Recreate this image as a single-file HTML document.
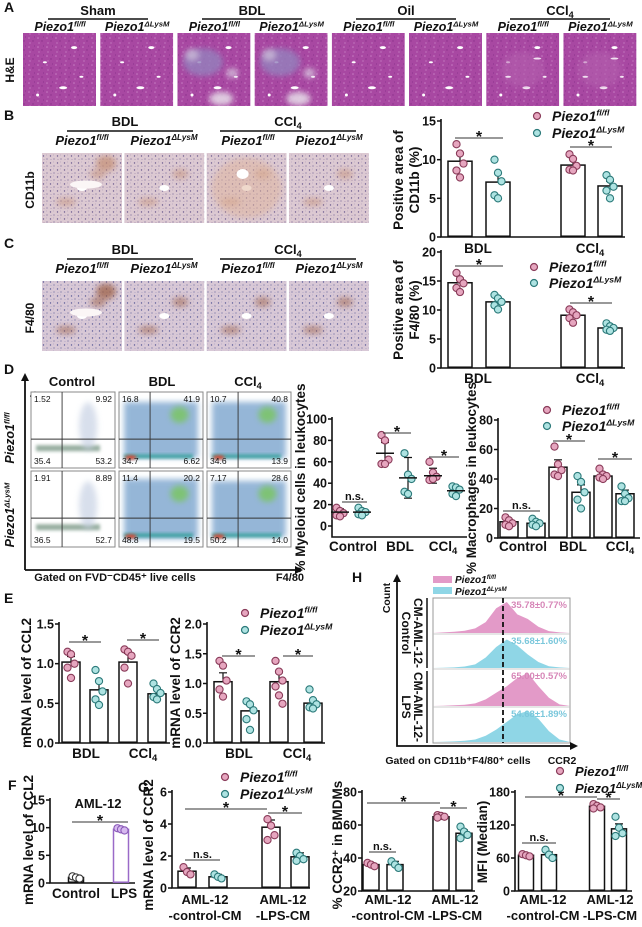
<!DOCTYPE html>
<html><head><meta charset="utf-8"><style>
html,body{margin:0;padding:0;background:#fff;}
svg{display:block;font-family:"Liberation Sans",Arial,sans-serif;font-weight:bold;}
</style></head><body>
<svg id="fig" xmlns="http://www.w3.org/2000/svg" width="642" height="927" viewBox="0 0 642 927">
<defs>
<filter id="blur2" x="-50%" y="-50%" width="200%" height="200%"><feGaussianBlur stdDeviation="3"/></filter>
<filter id="blur1" x="-50%" y="-50%" width="200%" height="200%"><feGaussianBlur stdDeviation="1.5"/></filter>
<pattern id="heTex" width="9" height="9" patternUnits="userSpaceOnUse">
<rect width="9" height="9" fill="#a848a2"/>
<circle cx="2" cy="2" r="0.8" fill="#c77cc2"/><circle cx="6" cy="5" r="0.7" fill="#8a2f8a"/><circle cx="3" cy="7" r="0.6" fill="#d08ccc"/><circle cx="7.5" cy="1" r="0.6" fill="#8e3690"/>
</pattern>
<pattern id="ihcTex" width="7" height="7" patternUnits="userSpaceOnUse">
<rect width="7" height="7" fill="#dcc9d2"/>
<circle cx="1.5" cy="2" r="0.7" fill="#6a5a8e"/><circle cx="5" cy="5" r="0.6" fill="#7a6a9a"/><circle cx="4.5" cy="1" r="0.5" fill="#b9a6bf"/><circle cx="2" cy="5.5" r="0.5" fill="#a890b0"/>
</pattern>
<pattern id="ihcTex2" width="7" height="7" patternUnits="userSpaceOnUse">
<rect width="7" height="7" fill="#d8c8d6"/>
<circle cx="1.5" cy="2" r="0.7" fill="#5a5a96"/><circle cx="5" cy="5" r="0.6" fill="#6a6aa0"/><circle cx="4.5" cy="1" r="0.5" fill="#b0a6c6"/><circle cx="2" cy="5.5" r="0.5" fill="#a8a0c0"/>
</pattern>
</defs>
</svg>
<script>
// ---------- DATA ----------
const bCats=['BDL','CCl4'];
const bFl=[9.8,9.3], bKo=[7.1,6.6], bFlErr=[1.1,0.8], bKoErr=[1.2,0.6];
const bFlPts=[[12,10.8,9.5,8.6,7.7],[10.7,10.1,9.2,8.7,8.6]];
const bKoPts=[[10,8.3,7.2,5.4,5.0],[8.0,7.4,6.5,6.0,5.0]];
const cFl=[14.7,9.1], cKo=[11.4,6.9], cFlErr=[0.8,0.4], cKoErr=[0.6,0.3];
const cFlPts=[[16.4,15.3,14.6,13.8,13.1],[10.1,9.6,9.1,8.6,7.8]];
const cKoPts=[[12.6,12.0,11.4,10.8,10.1],[7.7,7.2,6.9,6.6,6.4]];
const dCats=['Control','BDL','CCl4'];
const dMyFl=[13,68,47], dMyKo=[13,45,33], dMyFlSd=[3,10,7], dMyKoSd=[3,19,4];
const dMyFlPts=[[17,14,12,10,9],[85,80,62,58,58],[60,50,46,43,44]];
const dMyKoPts=[[17,14,13,11,10],[68,48,44,32,30],[37,36,34,30,28]];
const dMacFl=[11,48,42], dMacKo=[10,31,30], dMacFlErr=[1.5,5,2], dMacKoErr=[1.5,5,2.5];
const dMacFlPts=[[14,12,10,9,8],[62,50,46,43,42],[47,43,42,41,40]];
const dMacKoPts=[[13,11,10,9,8],[42,38,31,26,20],[35,30,27,25,25]];
const e1Fl=[1.02,1.02], e1Ko=[0.67,0.62], e1FlErr=[0.07,0.11], e1KoErr=[0.1,0.05];
const e1FlPts=[[1.15,1.12,1.0,0.95,0.82],[1.18,1.15,1.1,0.95,0.75]];
const e1KoPts=[[0.92,0.78,0.65,0.55,0.48],[0.75,0.68,0.63,0.58,0.55]];
const e2Fl=[1.03,1.03], e2Ko=[0.54,0.67], e2FlErr=[0.15,0.15], e2KoErr=[0.1,0.06];
const e2FlPts=[[1.38,1.3,1.05,0.9,0.78],[1.38,1.2,1.05,0.95,0.8,0.66]];
const e2KoPts=[[0.7,0.65,0.55,0.4,0.22],[0.9,0.72,0.65,0.6,0.58]];
const fCats=['Control','LPS'];
const fVals=[1.0,9.7], fErr=[0.1,0.2];
const fPts=[[1.2,1.0,0.8],[9.9,9.7,9.5]];
const gCats=['AML-12|-control-CM','AML-12|-LPS-CM'];
const g1Fl=[1.05,3.8], g1Ko=[0.7,1.95], g1FlErr=[0.2,0.45], g1KoErr=[0.15,0.25];
const g1FlPts=[[1.3,1.0,0.85],[4.3,3.9,3.3,3.0]];
const g1KoPts=[[0.85,0.7,0.6],[2.2,2.0,1.8,1.7]];
const g2Fl=[36,65], g2Ko=[36,55], g2FlErr=[1,0.7], g2KoErr=[2,2];
const g2FlPts=[[37,36,35],[66,65.5,65,64.5]];
const g2KoPts=[[38,36,34],[59,56,54,52]];
const g3Fl=[65,154], g3Ko=[66,113], g3FlErr=[2,3], g3KoErr=[5,9];
const g3FlPts=[[67,65,63],[158,155,152,150]];
const g3KoPts=[[75,66,60],[135,115,105,100]];
const flowNums=[['1.52','9.92','35.4','53.2'],['16.8','41.9','34.7','6.62'],['10.7','40.8','34.6','13.9'],
  ['1.91','8.89','36.5','52.7'],['11.4','20.2','48.8','19.5'],['7.17','28.6','50.2','14.0']];
const hLabels=['35.78±0.77%','35.68±1.60%','65.00±0.57%','54.68±1.89%'];
const hPeaks=[[0,0.02,0.04,0.07,0.15,0.35,0.8,1.0,0.6,0.45,0.2,0.06,0.02,0],
              [0,0.01,0.02,0.05,0.12,0.35,0.7,0.95,0.75,0.45,0.2,0.06,0.02,0],
              [0,0.01,0.02,0.04,0.08,0.2,0.4,0.6,0.85,1.0,0.6,0.25,0.05,0],
              [0,0.01,0.02,0.04,0.08,0.2,0.4,0.65,0.9,1.0,0.75,0.35,0.08,0]];

// ---------- HELPERS ----------
const NS='http://www.w3.org/2000/svg';
const svg=document.getElementById('fig');
function mk(tag,attrs,parent){const e=document.createElementNS(NS,tag);for(const k in attrs)e.setAttribute(k,attrs[k]);(parent||svg).appendChild(e);return e;}
function txt(x,y,s,size,opts,parent){opts=opts||{};const e=mk('text',{x:x,y:y,'font-size':size,'text-anchor':opts.anchor||'middle',fill:opts.fill||'#111'},parent);if(opts.italic)e.setAttribute('font-style','italic');if(opts.rot)e.setAttribute('transform','rotate('+(opts.rot===2?90:-90)+' '+x+' '+y+')');if(opts.w)e.setAttribute('font-weight',opts.w);
  if(s.indexOf('CCl4')>=0&&!opts.plain){const parts=s.split('CCl4');e.appendChild(document.createTextNode(parts[0]+'CCl'));const t=mk('tspan',{dy:3,'font-size':size*0.7},e);t.textContent='4';if(parts[1]){const t2=mk('tspan',{dy:-3},e);t2.textContent=parts[1];}}
  else e.textContent=s;return e;}
function geno(x,y,sup,size,anchor,parent){const e=mk('text',{x:x,y:y,'font-size':size,'font-style':'italic','text-anchor':anchor||'middle',fill:'#111'},parent);e.appendChild(document.createTextNode('Piezo1'));const t=mk('tspan',{dy:-size*0.38,'font-size':size*0.62},e);t.textContent=sup;return e;}
const PINK='#e6a6bf',PINKS='#8a3c5a',CYAN='#aee3e2',CYANS='#2c7a7a';

function legend(x,y,dy,size,g){
  const c1=mk('circle',{cx:x,cy:y,r:3.5,fill:PINK,stroke:PINKS,'stroke-width':1.2},g);
  
  
  const t1=geno(x+15,y+5,'fl/fl',size,'start',g);
  
  
  const c2=mk('circle',{cx:x,cy:y+dy,r:3.5,fill:CYAN,stroke:CYANS,'stroke-width':1.2},g);
  
  
  const t2=geno(x+15,y+dy+5,'ΔLysM',size,'start',g);
  
  
}

function barChart(name,cfg){
  const g=mk('g',{});
  
  
  const y=v=>cfg.yBot-(v-cfg.min)/(cfg.max-cfg.min)*(cfg.yBot-cfg.yTop);
  const ax=mk('path',{d:'M'+cfg.ax+' '+(cfg.yTop-2)+' V'+(cfg.axBot||cfg.yBot)+' H'+cfg.xEnd,stroke:'#111','stroke-width':1.6,fill:'none'},g);
  
  
  cfg.ticks.forEach((t,i)=>{
    mk('line',{x1:cfg.ax-4,x2:cfg.ax,y1:y(t),y2:y(t),stroke:'#111','stroke-width':1.5},g);
    const tl=txt(cfg.ax-5,y(t)+4.5,cfg.tickLabels[i],cfg.tf||12.5,{anchor:'end'},g);
    
    
  });
  const series=cfg.series;
  let k=0;
  for(let gi=0;gi<cfg.cats.length;gi++){
    series.forEach((s,si)=>{
      const cx=cfg.bx[k++]; const v=s.vals[gi];
      if(!cfg.dot){
        const r=mk('rect',{x:cx-cfg.bw/2,y:y(v),width:cfg.bw,height:(cfg.axBot||cfg.yBot)-y(v)-0.8,fill:'#fff',stroke:s.bar||'#111','stroke-width':1.5},g);
        
        
      }
      const e=s.err[gi];
      const eb=mk('path',{d:'M'+cx+' '+y(v+e)+' V'+y(cfg.dot?v-e:v)+' M'+(cx-4)+' '+y(v+e)+' H'+(cx+4)+(cfg.dot?' M'+(cx-4)+' '+y(v-e)+' H'+(cx+4):''),stroke:'#111','stroke-width':1.2,fill:'none'},g);
      
      
      s.pts[gi].forEach((p,pi)=>{
        const off=((pi%3)-1)*3.5;
        const c=mk('circle',{cx:cx+off,cy:y(p),r:3.6,fill:s.fill,stroke:s.stroke,'stroke-width':1.1},g);
        
        
      });
      if(cfg.dot){
        const m=mk('line',{x1:cx-9,x2:cx+9,y1:y(v),y2:y(v),stroke:'#111','stroke-width':1.5},g);
        
        
      }
    });
    const parts=cfg.cats[gi].split('|');
    parts.forEach((p,pi)=>{
      const cl=txt(cfg.cx[gi],cfg.catY+pi*16,p,cfg.cf||13.5,{},g);
      
      
    });
  }
  (cfg.sig||[]).forEach(s=>{
    mk('line',{x1:s[0],x2:s[1],y1:s[2],y2:s[2],stroke:'#333','stroke-width':1},g);
    const st=txt((s[0]+s[1])/2,s[2]+(s[3]==='n.s.'?-2:4),s[3]||'*',s[3]==='n.s.'?11:16,{},g);
    
    
  });
  cfg.ylab.forEach((l,i)=>{
    const yl=txt(cfg.ylx[i],cfg.yly,l,cfg.yf||13.5,{rot:true},g);
    
    
  });
  if(cfg.leg)legend(cfg.leg[0],cfg.leg[1],cfg.leg[2],cfg.leg[3]||14,g);
  return g;
}
const S=(vals,err,pts,ko)=>({vals:vals,err:err,pts:pts,fill:ko?CYAN:PINK,stroke:ko?CYANS:PINKS});

// ---------- PANEL LETTERS ----------
[['A',4,12],['B',4,120],['C',4,248],['D',4,374],['E',4,603],['F',8,790],['G',138,792],['H',352,582]].forEach(l=>{
  const t=txt(l[1],l[2],l[0],14,{anchor:'start'});
  
  
});

// ---------- HISTOLOGY ----------
function tissue(x,y,w,h,base,marks,name){
  const g=mk('g',{});
  
  
  const cp=mk('clipPath',{id:'cp-'+name},svg.querySelector('defs'));
  mk('rect',{x:x,y:y,width:w,height:h},cp);
  g.setAttribute('clip-path','url(#cp-'+name+')');
  mk('rect',{x:x,y:y,width:w,height:h,fill:base},g);
  marks.forEach(m=>mk('ellipse',{cx:x+m[0]*w,cy:y+m[1]*h,rx:m[2],ry:m[3],fill:m[4],opacity:m[6]||1,filter:m[5]?'url(#blur2)':''},g));
}
const aGroups=['Sham','BDL','Oil','CCl4'];
aGroups.forEach((gname,i)=>{
  const cx=23+i*154+75;
  const t=txt(cx,15,gname,13,{});
  
  
  mk('line',{x1:cx-50,x2:cx+50,y1:19,y2:19,stroke:'#111','stroke-width':1.4});
});
for(let i=0;i<8;i++){
  const x=23+i*77.2;
  const gl=geno(x+37,31,i%2?'ΔLysM':'fl/fl',12.5);
  
  
  const bdl=(i===2||i===3), ccl=(i>=6);
  const marks=[[0.3,0.4,2,1,'#fff'],[0.7,0.2,3,1.5,'#fff'],[0.55,0.75,4,1.5,'#fff'],[0.2,0.85,1.5,1.5,'#fff'],[0.8,0.6,2,1,'#fff']];
  if(bdl)marks.push([0.35,0.4,20,14,'#9482bd',1,0.8],[0.6,0.9,12,7,'#e4d8e6',1,0.9],[0.2,0.3,7,6,'#cbbcd8',1,0.8],[0.75,0.55,6,5,'#d8c8e0',1,0.8]);
  if(ccl)marks.push([0.5,0.5,22,18,'#b460ae',1,0.6],[0.3,0.6,3,1,'#f0e0f0'],[0.7,0.35,4,1,'#f0e0f0']);
  tissue(x,33,73,73,'url(#heTex)',marks,'he-image-'+i);
}
const he=txt(14,70,'H&E',12,{rot:true});



function ihcRow(yHead,yImg,label,labY,brown,tex){
  ['BDL','CCl4'].forEach((gname,i)=>{
    const cx=125+i*163;
    const t=txt(cx,yHead,gname,13,{});
    
    
    mk('line',{x1:cx-58+(i?-10:0),x2:cx+68,y1:yHead+5,y2:yHead+5,stroke:'#111','stroke-width':1.4});
  });
  [82,164,248,329].forEach((cx,i)=>{
    const gl=geno(cx,yHead+19,i%2?'ΔLysM':'fl/fl',13);
    
    
    const x=42+i*82.3;
    const m=[[0.5,0.5,5,3,'#fff'],[0.3,0.7,10,4,brown,1,0.5],[0.7,0.3,8,5,brown,1,0.5]];
    if(i===0)m.push([0.55,0.45,16,4,'#fbf6f6'],[0.8,0.15,10,8,brown,1,0.7]);
    if(i===2&&label==='CD11b')m.push([0.5,0.5,35,30,'#e0b49a',1,0.5],[0.45,0.3,6,5,'#fff']);
    tissue(x,yImg,80,70,tex,m,label.toLowerCase().replace('/','')+'-image-'+i);
  });
  const rl=txt(34,labY,label,12,{rot:true});
  
  
}
ihcRow(126,153,'CD11b',190,'#c58e72','url(#ihcTex)');
ihcRow(254,281,'F4/80',318,'#9a5a3c','url(#ihcTex2)');

// ---------- CHARTS B, C ----------
barChart('chart-b-cd11b',{ax:441,yTop:121,yBot:237,xEnd:625,min:0,max:15,ticks:[0,5,10,15],tickLabels:['0','5','10','15'],
  cats:bCats,bx:[460,498,573,610],bw:24,cx:[478,590],catY:253,series:[S(bFl,bFlErr,bFlPts),S(bKo,bKoErr,bKoPts,1)],
  sig:[[455,503,138],[570,612,147]],ylab:['Positive area of','CD11b (%)'],ylx:[403,419],yly:180,leg:[537,116,17]});
barChart('chart-c-f480',{ax:441,yTop:252,yBot:368,xEnd:625,min:0,max:20,ticks:[0,5,10,15,20],tickLabels:['0','5','10','15','20'],
  cats:bCats,bx:[460,498,573,610],bw:24,cx:[478,590],catY:383,series:[S(cFl,cFlErr,cFlPts),S(cKo,cKoErr,cKoPts,1)],
  sig:[[455,503,266],[570,612,303]],ylab:['Positive area of','F4/80 (%)'],ylx:[403,419],yly:310,leg:[534,267,16]});

// ---------- PANEL D FLOW ----------
[['Control',72],['BDL',162],['CCl4',248]].forEach(t=>{
  const e=txt(t[1],386,t[0],13,{});
  
  
});
mk('path',{d:'M25 570 V378 M25 570 H298',stroke:'#111','stroke-width':1.8,fill:'none'});
mk('path',{d:'M21 381 L25 373 L29 381 Z M295 566 L303 570 L295 574 Z',fill:'#111'});
const fl1=txt(38,408,'CD11b',11,{rot:true});


const fx=txt(115,581,'Gated on FVD⁻CD45⁺ live cells',11,{});


const fx2=txt(290,581,'F4/80',11,{});


const rg1=geno(14,438,'fl/fl',12.5);rg1.setAttribute('transform','rotate(-90 14 438)');


const rg2=geno(14,515,'ΔLysM',12.5);rg2.setAttribute('transform','rotate(-90 14 515)');


for(let i=0;i<6;i++){
  const col=i%3,row=Math.floor(i/3);
  const x=31+col*88,y=392+row*79,w=84,h=76;
  const g=mk('g',{});
  
  
  mk('rect',{x:x,y:y,width:w,height:h,fill:'#fff',stroke:'#888','stroke-width':1},g);
  if(col===0){
    mk('rect',{x:x+5,y:y+h*0.7,width:w-20,height:6,fill:'#7d9a88',opacity:0.8,filter:'url(#blur1)'},g);
    mk('ellipse',{cx:x+w*0.68,cy:y+h*0.45,rx:9,ry:24,fill:'#c8d2e4',opacity:0.7,filter:'url(#blur2)'},g);
  }else{
    const big=(i===4)?1:0;
    mk('rect',{x:x+5,y:y+(big?8:10),width:w-10,height:h-(big?16:20),fill:'#4f86bd',opacity:0.6,filter:'url(#blur2)'},g);
    mk('ellipse',{cx:x+w*0.72,cy:y+h*0.3,rx:9,ry:8,fill:'#7cc46a',opacity:0.9,filter:'url(#blur2)'},g);
    mk('rect',{x:x+5,y:y+h*0.82,width:w-15,height:4,fill:'#3aa0a0',filter:'url(#blur1)'},g);
    mk('ellipse',{cx:x+w*0.14,cy:y+h*0.86,rx:6,ry:2,fill:'#e0402a',filter:'url(#blur1)'},g);
  }
  mk('line',{x1:x+w*0.37,x2:x+w*0.37,y1:y,y2:y+h,stroke:'#333','stroke-width':0.9},g);
  mk('line',{x1:x,x2:x+w,y1:y+h*0.62,y2:y+h*0.62,stroke:'#333','stroke-width':0.9},g);
  const n=flowNums[i];
  [[x+3,y+10,'start',0],[x+w-3,y+10,'end',1],[x+3,y+h-4,'start',2],[x+w-3,y+h-4,'end',3]].forEach(q=>{
    const t=txt(q[0],q[1],n[q[3]],8.5,{anchor:q[2],w:'normal'},g);
    
    
  });
}
barChart('chart-d-myeloid',{dot:1,ax:332,yTop:419,yBot:526,axBot:537,xEnd:467,min:0,max:100,ticks:[0,20,40,60,80,100],tickLabels:['0','20','40','60','80','100'],
  cats:dCats,bx:[340,362,385,408,433,456],cx:[353,400,443],catY:551,series:[S(dMyFl,dMyFlSd,dMyFlPts),S(dMyKo,dMyKoSd,dMyKoPts,1)],
  sig:[[342,367,502,'n.s.'],[383,411,433],[429,459,457]],ylab:['% Myeloid cells in leukocytes'],ylx:[305],yly:478});
barChart('chart-d-macrophage',{ax:498,yTop:420,yBot:538,xEnd:640,min:0,max:80,ticks:[0,20,40,60,80],tickLabels:['0','20','40','60','80'],
  cats:dCats,bx:[509,536,558,581,603,625],bw:18,cx:[523,573,620],catY:551,series:[S(dMacFl,dMacFlErr,dMacFlPts),S(dMacKo,dMacKoErr,dMacKoPts,1)],
  sig:[[503,540,511,'n.s.'],[553,585,441],[598,632,459]],ylab:['% Macrophages in leukocytes'],ylx:[476],yly:478,leg:[547,410,16]});

// ---------- PANEL E ----------
barChart('chart-e-ccl2',{ax:59,yTop:624,yBot:743,xEnd:170,min:0,max:1.5,ticks:[0,0.5,1,1.5],tickLabels:['0.0','0.5','1.0','1.5'],
  cats:bCats,bx:[71,99,128,157],bw:18,cx:[86,143],catY:758,series:[S(e1Fl,e1FlErr,e1FlPts),S(e1Ko,e1KoErr,e1KoPts,1)],
  sig:[[69,101,642],[127,159,640]],ylab:['mRNA level of CCL2'],ylx:[31],yly:683});
barChart('chart-e-ccr2',{ax:207,yTop:624,yBot:743,xEnd:325,min:0,max:2,ticks:[0,0.5,1,1.5,2],tickLabels:['0.0','0.5','1.0','1.5','2.0'],
  cats:bCats,bx:[223,250,279,313],bw:18,cx:[239,297],catY:758,series:[S(e2Fl,e2FlErr,e2FlPts),S(e2Ko,e2KoErr,e2KoPts,1)],
  sig:[[222,255,656],[283,313,656]],ylab:['mRNA level of CCR2'],ylx:[180],yly:683,leg:[245,613,17]});

// ---------- PANEL H ----------
(function(){
  const g=mk('g',{});
  
  
  const lr1=mk('rect',{x:433,y:576,width:19,height:7,fill:'#e39ac8'},g);
  
  
  const lr2=mk('rect',{x:433,y:587,width:19,height:7,fill:'#8fd6e6'},g);
  
  
  geno(455,583,'fl/fl',10,'start',g);
  geno(455,595,'ΔLysM',10,'start',g);
  mk('rect',{x:433,y:598,width:137,height:145,fill:'#fff',stroke:'#999','stroke-width':1},g);
  const rows=[598,634,669,707,743];
  for(let r=0;r<4;r++){
    const top=rows[r],bot=rows[r+1]-1,hh=bot-top-4;
    let d='M433 '+bot;
    hPeaks[r].forEach((v,i)=>{const x=433+i*(137/(hPeaks[r].length-1));d+=' L'+x.toFixed(1)+' '+(bot-v*hh).toFixed(1);});
    d+=' L570 '+bot+' Z';
    const p=mk('path',{d:d,fill:r%2?'#8fd6e6':'#e39ac8',stroke:'none'},g);
    
    
    if(r>0)mk('line',{x1:433,x2:570,y1:top,y2:top,stroke:'#bbb','stroke-width':0.8},g);
    const t=txt(567,top+10,hLabels[r],9.5,{anchor:'end',fill:r%2?'#7cc8dc':'#d787b8'},g);
    
    
  }
  mk('line',{x1:503,x2:503,y1:598,y2:743,stroke:'#111','stroke-width':1.8,'stroke-dasharray':'5,3'},g);
  mk('line',{x1:427,x2:427,y1:598,y2:668,stroke:'#111','stroke-width':1.5},g);
  mk('line',{x1:427,x2:427,y1:671,y2:743,stroke:'#111','stroke-width':1.5},g);
  mk('path',{d:'M397 578 V746 H572',stroke:'#111','stroke-width':1.8,fill:'none'},g);
  mk('path',{d:'M393 582 L397 574 L401 582 Z M570 742 L578 746 L570 750 Z',fill:'#111'},g);
  const ct=txt(390,598,'Count',10.5,{rot:true},g);
  
  
  [['Control',402,633],['CM-AML-12-',414,633],['LPS',402,707],['CM-AML-12-',414,707]].forEach(l=>{
    const t=txt(l[1],l[2],l[0],12,{rot:2},g);
    
    
  });
  const gx=txt(458,764,'Gated on CD11b⁺F4/80⁺ cells',10.5,{},g);
  
  
  const cx=txt(562,764,'CCR2',10.5,{},g);
  
  
})();

// ---------- PANEL F ----------
const fg=barChart('chart-f-ccl2',{ax:50,yTop:800,yBot:883,xEnd:135,min:0,max:15,ticks:[0,5,10,15],tickLabels:['0','5','10','15'],
  cats:fCats,bx:[76,121],bw:15,cx:[76,124],catY:898,series:[{vals:fVals,err:fErr,pts:fPts,fill:'#fff',stroke:'#333'}],
  sig:[[72,128,822]],ylab:['mRNA level of CCL2'],ylx:[33],yly:840});
fg.querySelectorAll('rect')[1].setAttribute('stroke','#9a6ac8');
fg.querySelectorAll('circle').forEach((c,i)=>{if(i>=3){c.setAttribute('fill','#d6b8ef');c.setAttribute('stroke','#8a5ab8');}});
const aml=txt(98,808,'AML-12',13,{});



// ---------- PANEL G ----------
barChart('chart-g-ccr2-mrna',{ax:172,yTop:792,yBot:888,xEnd:310,min:0,max:6,ticks:[0,2,4,6],tickLabels:['0','2','4','6'],
  cats:gCats,bx:[187,218,271,300],bw:18,cx:[205,283],catY:904,cf:13,series:[S(g1Fl,g1FlErr,g1FlPts),S(g1Ko,g1KoErr,g1KoPts,1)],
  sig:[[185,267,809],[268,302,813],[185,220,860,'n.s.']],ylab:['mRNA level of CCR2'],ylx:[153],yly:845,leg:[225,777,17]});
barChart('chart-g-ccr2-percent',{ax:362,yTop:792,yBot:891,xEnd:475,min:20,max:80,ticks:[20,40,60,80],tickLabels:['20','40','60','80'],
  cats:gCats,bx:[371,395,441,464],bw:16,cx:[388,455],catY:904,cf:13,series:[S(g2Fl,g2FlErr,g2FlPts),S(g2Ko,g2KoErr,g2KoPts,1)],
  sig:[[367,440,803],[440,467,808],[369,396,852,'n.s.']],ylab:['% CCR2⁺ in BMDMs'],ylx:[342],yly:845});
barChart('chart-g-mfi',{ax:515,yTop:792,yBot:891,xEnd:632,min:0,max:180,ticks:[0,60,120,180],tickLabels:['0','60','120','180'],
  cats:gCats,bx:[526,549,597,619],bw:15,cx:[543,610],catY:904,cf:13,series:[S(g3Fl,g3FlErr,g3FlPts),S(g3Ko,g3KoErr,g3KoPts,1)],
  sig:[[525,597,797],[597,620,799],[522,556,843,'n.s.']],ylab:['MFI (Median)'],ylx:[487],yly:842,leg:[560,771,17,13]});
</script>
</body></html>
